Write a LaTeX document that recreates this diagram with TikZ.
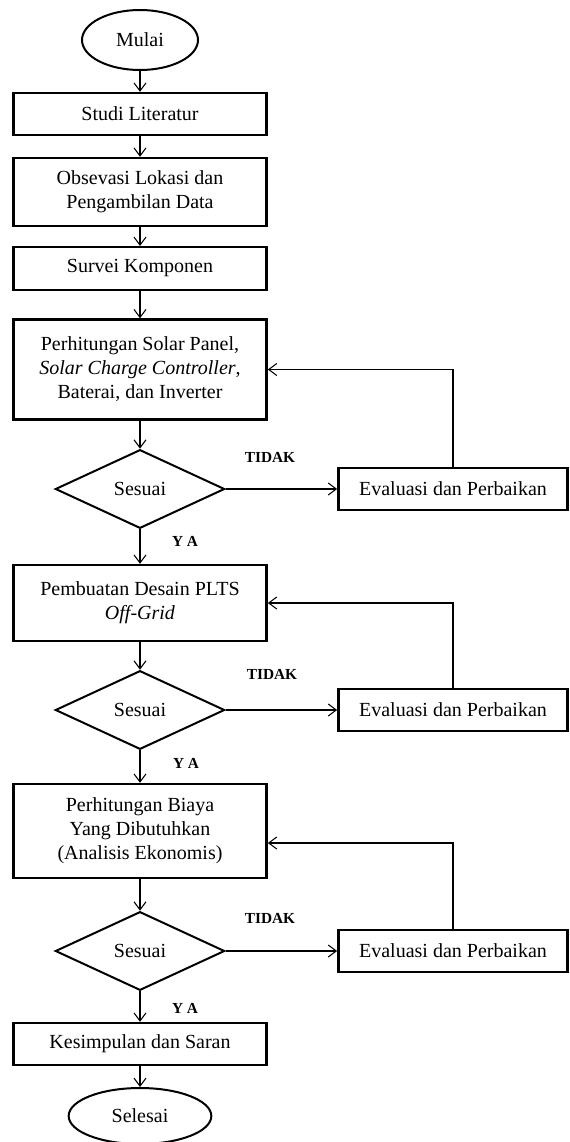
\documentclass[tikz,border=0pt]{standalone}
\usepackage{fontspec}
\setmainfont{Liberation Serif}
\usetikzlibrary{shapes.geometric,arrows.meta,calc}

\begin{document}
\begin{tikzpicture}[x=0.75pt,y=0.75pt,yscale=-1,xscale=1,
    terminal/.style={draw,ellipse,line width=1.5pt,inner sep=0pt,minimum width=87pt,minimum height=45pt,font=\fontsize{15}{18}\selectfont},
    proses/.style={draw,rectangle,line width=1.8pt,inner sep=0pt,minimum width=190pt,align=center,font=\fontsize{15}{18}\selectfont},
    keputusan/.style={draw,diamond,line width=1.5pt,inner sep=0pt,minimum width=127pt,minimum height=59pt,font=\fontsize{15}{18}\selectfont},
    evaluasi/.style={draw,rectangle,line width=1.8pt,inner sep=0pt,minimum width=172pt,minimum height=31.5pt,font=\fontsize{15}{18}\selectfont},
    teks/.style={font=\bfseries\fontsize{11.5}{13}\selectfont,inner sep=0pt},
    panah/.style={line width=0.8pt,-{Straight Barb[length=6pt,width=9pt]}}]
        \useasboundingbox (0,0) rectangle (569,1142);

        %Shape: Ellipse
        \node[terminal] (mulai) at (140,40) {Mulai};
        %Shape: Rectangle
        \node[proses,minimum height=31.5pt] (studi) at (140,114) {Studi Literatur};
        %Shape: Rectangle
        \node[proses,minimum height=51pt] (obs) at (140,192) {Obsevasi Lokasi dan\\Pengambilan Data};
        %Shape: Rectangle
        \node[proses,minimum height=32pt] (survei) at (140,268.5) {Survei Komponen};
        %Shape: Rectangle
        \node[proses,minimum height=75pt] (hitung) at (140,369.5) {Perhitungan Solar Panel,\\\textit{Solar Charge Controller},\\Baterai, dan Inverter};
        %Shape: Diamond
        \node[keputusan] (cek1) at (140,489) {Sesuai};
        %Shape: Rectangle
        \node[evaluasi] (eval1) at (453,489) {Evaluasi dan Perbaikan};
        \node[teks] (tidak1) at (270,457) {TIDAK};
        \node[teks] (ya1) at (185,541) {Y A};
        %Shape: Rectangle
        \node[proses,minimum height=57pt] (desain) at (140,603) {Pembuatan Desain PLTS\\\textit{Off-Grid}};
        %Shape: Diamond
        \node[keputusan] (cek2) at (140,710) {Sesuai};
        %Shape: Rectangle
        \node[evaluasi] (eval2) at (453,710) {Evaluasi dan Perbaikan};
        \node[teks] (tidak2) at (272,674) {TIDAK};
        \node[teks] (ya2) at (186,763) {Y A};
        %Shape: Rectangle
        \node[proses,minimum height=70.5pt] (biaya) at (140,831) {Perhitungan Biaya\\Yang Dibutuhkan\\(Analisis Ekonomis)};
        %Shape: Diamond
        \node[keputusan] (cek3) at (140,951) {Sesuai};
        %Shape: Rectangle
        \node[evaluasi] (eval3) at (453,951) {Evaluasi dan Perbaikan};
        \node[teks] (tidak3) at (270,918) {TIDAK};
        \node[teks] (ya3) at (185,1008) {Y A};
        %Shape: Rectangle
        \node[proses,minimum height=31.5pt] (simpul) at (140,1044) {Kesimpulan dan Saran};
        %Shape: Ellipse
        \node[terminal,minimum width=107pt,minimum height=42pt] (selesai) at (140,1116) {Selesai};

        %Straight Lines
        \draw[panah] (mulai) -- (studi);
        \draw[panah] (studi) -- (obs);
        \draw[panah] (obs) -- (survei);
        \draw[panah] (survei) -- (hitung);
        \draw[panah] (hitung) -- (cek1);
        \draw[panah] (cek1) -- (desain);
        \draw[panah] (desain) -- (cek2);
        \draw[panah] (cek2) -- (biaya);
        \draw[panah] (biaya) -- (cek3);
        \draw[panah] (cek3) -- (simpul);
        \draw[panah] (simpul) -- (selesai);
        %Straight Lines
        \draw[panah] (cek1) -- (eval1);
        \draw[panah] (cek2) -- (eval2);
        \draw[panah] (cek3) -- (eval3);
        %Straight Lines
        \draw[panah] (eval1.north) |- (hitung.east);
        \draw[panah] (eval2.north) |- (desain.east);
        \draw[panah] (eval3.north) |- ($(biaya.east)+(0,12)$);

\end{tikzpicture}
\end{document}
